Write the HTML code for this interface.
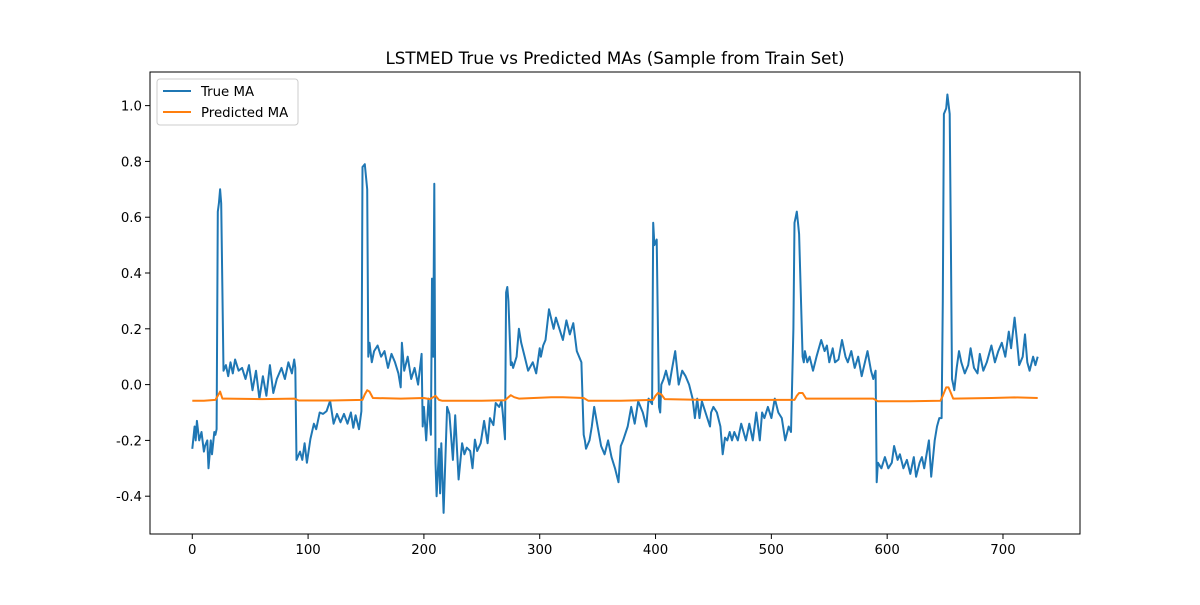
<!DOCTYPE html>
<html><head><meta charset="utf-8"><style>
body{margin:0;background:#fff;}
svg text{font-family:"DejaVu Sans","Liberation Sans",sans-serif;}
</style></head><body>
<svg id="chart" width="1200" height="600" xmlns="http://www.w3.org/2000/svg">
<rect width="1200" height="600" fill="#fff"/>
<text x="615" y="64" font-size="16.7" text-anchor="middle">LSTMED True vs Predicted MAs (Sample from Train Set)</text>
<g id="plot"></g>
</svg>
<script>
const trueIdx=[0,2,3,4,6,8,10,11,13,14,16,17,19,20,21,22,23,24,25,27,29,31,33,35,37,40,43,46,49,52,55,58,61,64,67,70,73,77,80,83,86,88,89,90,93,95,97,99,102,105,107,110,113,116,119,122,125,128,131,134,137,139,141,144,146,147,149,151,152,153,155,157,160,163,166,169,172,175,178,180,181,183,186,189,192,195,198,199,200,202,204,206,207,208,209,210,211,213,214,215,217,220,222,225,227,230,233,235,237,240,242,244,246,249,252,255,257,260,262,265,267,268,270,271,272,273,275,276,277,280,282,284,287,290,294,297,300,301,303,305,308,312,314,317,320,323,326,329,332,336,338,339,340,343,345,347,350,353,356,359,362,365,368,370,372,376,379,382,385,389,392,394,397,398,399,401,403,404,405,407,409,412,414,417,420,423,426,429,432,434,436,438,440,447,448,450,453,456,458,460,462,464,466,468,471,474,478,481,484,487,490,492,494,497,500,503,506,509,512,515,517,519,520,521,522,523,524,527,528,529,531,533,536,539,543,546,548,550,553,555,558,561,564,566,569,572,575,578,583,586,588,590,591,592,595,598,601,604,606,609,611,614,617,620,623,625,628,630,632,636,638,641,643,645,647,648,649,651,652,654,655,656,657,658,660,662,664,667,670,672,675,678,680,683,686,690,693,696,699,702,705,707,710,712,714,717,719,721,723,726,728,730];
const trueVal=[-0.23,-0.15,-0.2,-0.13,-0.2,-0.17,-0.24,-0.22,-0.2,-0.3,-0.2,-0.25,-0.17,-0.18,-0.16,0.62,0.65,0.7,0.65,0.05,0.07,0.03,0.08,0.04,0.09,0.05,0.06,0.02,0.07,-0.02,0.05,-0.05,0.03,-0.04,0.07,-0.03,0.02,0.06,0.02,0.08,0.04,0.09,0.06,-0.27,-0.24,-0.27,-0.21,-0.28,-0.195,-0.14,-0.16,-0.1,-0.105,-0.095,-0.058,-0.14,-0.105,-0.135,-0.105,-0.14,-0.1,-0.155,-0.11,-0.16,-0.095,0.78,0.79,0.7,0.1,0.15,0.08,0.12,0.14,0.1,0.12,0.06,0.11,0.08,0.04,-0.01,0.15,0.05,0.1,0.02,0.06,0.0,0.11,-0.15,-0.08,-0.2,-0.05,-0.18,0.38,0.1,0.72,-0.28,-0.4,-0.23,-0.39,-0.21,-0.46,-0.08,-0.105,-0.27,-0.11,-0.34,-0.21,-0.25,-0.226,-0.238,-0.3,-0.197,-0.238,-0.21,-0.13,-0.21,-0.12,-0.145,-0.066,-0.08,-0.058,-0.1,-0.196,0.33,0.35,0.3,0.07,0.08,0.06,0.1,0.2,0.15,0.1,0.05,0.08,0.04,0.13,0.1,0.14,0.16,0.27,0.2,0.24,0.2,0.16,0.23,0.18,0.22,0.12,0.08,-0.18,-0.2,-0.23,-0.2,-0.15,-0.08,-0.15,-0.22,-0.25,-0.2,-0.26,-0.3,-0.35,-0.22,-0.2,-0.15,-0.08,-0.14,-0.06,-0.1,-0.15,-0.05,-0.07,0.58,0.5,0.52,-0.08,-0.1,0.0,0.02,0.05,0.0,0.05,0.12,0.0,0.05,0.03,0.0,-0.05,-0.12,-0.05,-0.12,-0.06,-0.15,-0.1,-0.08,-0.1,-0.15,-0.25,-0.19,-0.2,-0.17,-0.2,-0.17,-0.2,-0.14,-0.2,-0.14,-0.2,-0.1,-0.2,-0.1,-0.12,-0.08,-0.12,-0.05,-0.1,-0.12,-0.2,-0.15,-0.17,0.2,0.58,0.6,0.62,0.58,0.54,0.1,0.08,0.12,0.08,0.1,0.05,0.1,0.16,0.12,0.14,0.08,0.13,0.08,0.09,0.16,0.1,0.08,0.12,0.06,0.1,0.03,0.12,0.05,0.02,0.05,-0.35,-0.28,-0.3,-0.26,-0.3,-0.28,-0.22,-0.27,-0.25,-0.3,-0.27,-0.32,-0.26,-0.33,-0.28,-0.26,-0.3,-0.2,-0.33,-0.2,-0.15,-0.12,-0.12,0.3,0.97,0.99,1.04,0.97,0.5,0.02,0.0,-0.02,0.06,0.12,0.08,0.04,0.07,0.13,0.06,0.04,0.11,0.05,0.08,0.14,0.08,0.12,0.15,0.1,0.19,0.13,0.24,0.16,0.07,0.1,0.18,0.08,0.05,0.1,0.07,0.1];
const predIdx=[0,10,20,22,24,26,30,60,88,92,120,147,149,151,153,156,180,200,205,208,210,213,216,250,270,273,275,278,282,310,320,338,342,370,398,400,402,405,408,440,500,520,522,524,527,530,560,588,592,620,646,648,651,653,655,657,690,710,730];
const predVal=[-0.058,-0.058,-0.055,-0.04,-0.025,-0.05,-0.05,-0.052,-0.05,-0.057,-0.057,-0.055,-0.035,-0.02,-0.025,-0.048,-0.05,-0.048,-0.052,-0.045,-0.04,-0.055,-0.058,-0.058,-0.056,-0.045,-0.038,-0.045,-0.05,-0.045,-0.045,-0.048,-0.058,-0.058,-0.055,-0.04,-0.03,-0.035,-0.052,-0.055,-0.055,-0.055,-0.04,-0.03,-0.03,-0.05,-0.05,-0.05,-0.06,-0.06,-0.058,-0.04,-0.01,-0.01,-0.03,-0.05,-0.048,-0.046,-0.048];
const xTicks=[0,100,200,300,400,500,600,700];
const yTicks=[-0.4,-0.2,0.0,0.2,0.4,0.6,0.8,1.0];

const L=150,R=1080,T=72,B=534,xMin=-36.5,xMax=766.5,yMin=-0.5355,yMax=1.1205;
const sx=v=>L+(v-xMin)/(xMax-xMin)*(R-L);
const sy=v=>B-(v-yMin)/(yMax-yMin)*(B-T);
const NS="http://www.w3.org/2000/svg";
const g=document.getElementById('plot');
function mk(t,a){const e=document.createElementNS(NS,t);for(const k in a)e.setAttribute(k,a[k]);g.appendChild(e);return e;}
function line(idx,vals,color,name){
  const p=mk('path',{d:idx.map((x,i)=>(i?'L':'M')+sx(x).toFixed(1)+','+sy(vals[i]).toFixed(1)).join(''),fill:'none',stroke:color,'stroke-width':2,'stroke-linejoin':'round'});
  
  
}
line(trueIdx,trueVal,'#1f77b4','true-ma-line');
line(predIdx,predVal,'#ff7f0e','predicted-ma-line');
const fr=mk('rect',{x:L,y:T,width:R-L,height:B-T,fill:'none',stroke:'#000','stroke-width':1});


xTicks.forEach(v=>{
  const x=sx(v);
  const t=mk('line',{x1:x,x2:x,y1:B,y2:B+5,stroke:'#000'});
  
  
  const s=mk('text',{x:x,y:B+20,'font-size':13.3,'text-anchor':'middle'});s.textContent=v;
  
  
});
yTicks.forEach(v=>{
  const y=sy(v);
  const t=mk('line',{x1:L-5,x2:L,y1:y,y2:y,stroke:'#000'});
  
  
  const s=mk('text',{x:L-8,y:y+5,'font-size':13.3,'text-anchor':'end'});s.textContent=v.toFixed(1);
  
  
});
const lg=mk('rect',{x:157,y:79,width:141,height:46,rx:3,fill:'#fff',stroke:'#ccc'});


[['True MA','#1f77b4',91],['Predicted MA','#ff7f0e',112]].forEach(([n,c,y])=>{
  const l=mk('line',{x1:163,x2:191,y1:y,y2:y,stroke:c,'stroke-width':2});
  
  
  const s=mk('text',{x:201,y:y+5,'font-size':13.3});s.textContent=n;
  
  
});
</script>
</body></html>
